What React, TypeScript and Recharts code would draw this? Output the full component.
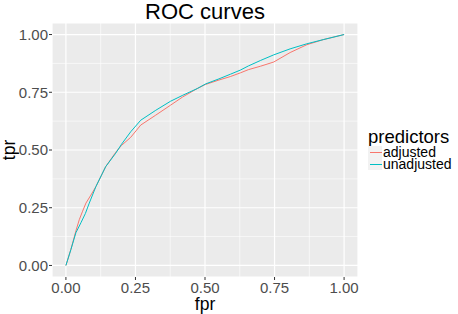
import { LineChart, Line, XAxis, YAxis, CartesianGrid, ReferenceLine } from 'recharts';

const FPR_ADJ = [0, 0.018, 0.036, 0.048, 0.06, 0.072, 0.09, 0.108, 0.143, 0.179, 0.2, 0.233, 0.269, 0.323, 0.376, 0.42, 0.472, 0.502, 0.55, 0.591, 0.627, 0.656, 0.7, 0.747, 0.806, 0.866, 0.925, 1];
const TPR_ADJ = [0, 0.07, 0.15, 0.198, 0.235, 0.27, 0.305, 0.342, 0.428, 0.49, 0.52, 0.555, 0.608, 0.651, 0.694, 0.73, 0.766, 0.784, 0.803, 0.818, 0.834, 0.848, 0.863, 0.881, 0.922, 0.956, 0.978, 1];

const FPR_UNADJ = [0, 0.018, 0.036, 0.054, 0.07, 0.084, 0.108, 0.143, 0.179, 0.2, 0.233, 0.269, 0.323, 0.376, 0.42, 0.472, 0.502, 0.55, 0.591, 0.627, 0.656, 0.7, 0.747, 0.806, 0.866, 0.925, 1];
const TPR_UNADJ = [0, 0.069, 0.142, 0.185, 0.225, 0.27, 0.342, 0.428, 0.486, 0.525, 0.579, 0.629, 0.672, 0.711, 0.737, 0.766, 0.786, 0.808, 0.828, 0.846, 0.864, 0.888, 0.912, 0.938, 0.96, 0.978, 1];

const MAJOR_TICKS = [0, 0.25, 0.5, 0.75, 1];
const MINOR_TICKS = [0.125, 0.375, 0.625, 0.875];

const SERIES = [
  { name: 'adjusted', color: '#F8766D' },
  { name: 'unadjusted', color: '#00BFC4' },
];

const adjusted = FPR_ADJ.map((f, i) => ({ fpr: f, tpr: TPR_ADJ[i] }));
const unadjusted = FPR_UNADJ.map((f, i) => ({ fpr: f, tpr: TPR_UNADJ[i] }));

const FONT = '"Liberation Sans", Arial, sans-serif';
const fmt = (v: number) => v.toFixed(2);

const LegendBox = () => (
  <div style={{ position: 'absolute', left: 368, top: 127, fontFamily: FONT, color: '#000' }}>
    <div style={{ fontSize: 18.5, lineHeight: '19px', marginBottom: 0 }}>predictors</div>
    {SERIES.map(s => (
      <div key={s.name} style={{ display: 'flex', alignItems: 'center', height: 12 }}>
        <div style={{ width: 14, height: 12, background: '#F2F2F2', position: 'relative', marginRight: 1 }}>
          <div style={{ position: 'absolute', left: 2, right: 0, top: 6, height: 1, background: s.color }} />
        </div>
        <span style={{ fontSize: 14, lineHeight: '12px' }}>{s.name}</span>
      </div>
    ))}
  </div>
);

const App = () => (
  <div style={{ position: 'absolute', left: 0, top: 0, width: 458, height: 314, background: '#fff' }}>
    <svg width={458} height={30} style={{ position: 'absolute', left: 0, top: 0 }}>
      <text x={205} y={19} textAnchor="middle" fontFamily={FONT} fontSize={22} fill="#000">ROC curves</text>
    </svg>
    <LineChart width={458} height={314} margin={{ top: 23, right: 100, bottom: 0, left: 0 }}>
      <CartesianGrid fill="#EBEBEB" stroke="#FFFFFF" strokeWidth={1.2} />
      {MINOR_TICKS.map(t => (
        <ReferenceLine key={'x' + t} x={t} stroke="#FFFFFF" strokeWidth={0.6} />
      ))}
      {MINOR_TICKS.map(t => (
        <ReferenceLine key={'y' + t} y={t} stroke="#FFFFFF" strokeWidth={0.6} />
      ))}
      <XAxis
        type="number"
        dataKey="fpr"
        domain={[-0.05, 1.05]}
        ticks={MAJOR_TICKS}
        tickFormatter={fmt}
        allowDataOverflow
        axisLine={false}
        tickSize={3}
        tickMargin={2}
        tickLine={{ stroke: '#333333' }}
        tick={{ fontSize: 15, fill: '#4D4D4D', fontFamily: FONT }}
        height={37}
        label={{ value: 'fpr', position: 'insideBottom', offset: 4, fontSize: 17.5, fill: '#000', fontFamily: FONT }}
      />
      <YAxis
        type="number"
        dataKey="tpr"
        domain={[-0.05, 1.05]}
        ticks={MAJOR_TICKS}
        tickFormatter={fmt}
        allowDataOverflow
        axisLine={false}
        tickSize={3}
        tickMargin={1}
        tickLine={{ stroke: '#333333' }}
        tick={{ fontSize: 15, fill: '#4D4D4D', fontFamily: FONT }}
        width={52}
        label={({ viewBox }: any) => (
          <text
            x={15}
            y={viewBox.y + viewBox.height / 2}
            transform={`rotate(-90, 15, ${viewBox.y + viewBox.height / 2})`}
            textAnchor="middle"
            fontSize={17.5}
            fontFamily={FONT}
            fill="#000"
          >
            tpr
          </text>
        )}
      />
      <Line data={adjusted} dataKey="tpr" name="adjusted" stroke={SERIES[0].color} strokeWidth={1} dot={false} isAnimationActive={false} />
      <Line data={unadjusted} dataKey="tpr" name="unadjusted" stroke={SERIES[1].color} strokeWidth={1} dot={false} isAnimationActive={false} />
    </LineChart>
    <LegendBox />
  </div>
);

export default App;
